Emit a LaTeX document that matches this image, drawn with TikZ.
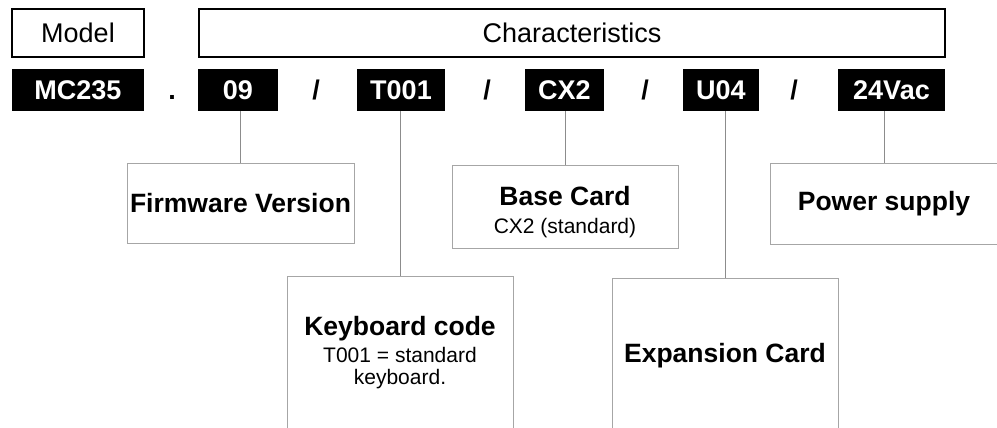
\documentclass[tikz,border=0pt]{standalone}
\usepackage{fontspec}
\setmainfont{Liberation Sans}
\newcommand\bigtxt{\fontsize{27}{31}\selectfont}
\newcommand\boldtxt{\fontsize{26.5}{30}\selectfont}
\newcommand\smalltxt{\fontsize{21}{23}\selectfont}

\begin{document}
\begin{tikzpicture}[x=1pt,y=-1pt,
    head/.style={draw=black,line width=2pt,inner sep=0pt,minimum height=48pt,font=\bigtxt},
    code/.style={fill=black,text=white,inner sep=0pt,minimum height=42pt,font=\bfseries\bigtxt},
    sep/.style={anchor=base,inner sep=0pt,font=\bfseries\bigtxt},
    info/.style={draw=black!35,line width=0.8pt,inner sep=0pt,align=center,font=\bfseries\boldtxt},
    link/.style={draw=black!45,line width=0.8pt}]
\useasboundingbox (0,0) rectangle (997,428);
\clip (0,0) rectangle (997,428);
\path
    (78,33)    node (model) [head,minimum width=132pt] {Model}
    (572,33)   node (chars) [head,minimum width=746pt] {Characteristics}
    (78,90)    node (mc)  [code,minimum width=132pt] {MC235}
    (238,90)   node (fwc) [code,minimum width=80pt]  {09}
    (401,90)   node (kbc) [code,minimum width=88pt]  {T001}
    (564.5,90) node (bcc) [code,minimum width=79pt]  {CX2}
    (721,90)   node (exc) [code,minimum width=76pt]  {U04}
    (891.5,90) node (pwc) [code,minimum width=107pt] {24Vac}
    (172,99.7) node [sep] {.}
    (316,99.7) node [sep] {/}
    (487,99.7) node [sep] {/}
    (645,99.7) node [sep] {/}
    (794,99.7) node [sep] {/};
\path
    (240.5,203) node (fw) [info,minimum width=227pt,minimum height=80pt]
	{Firmware Version}
    (565,206.5) node (bc) [info,minimum width=226pt,minimum height=83pt]
	{\rule{0pt}{30pt}Base Card\\[-2pt] {\mdseries\smalltxt CX2 (standard)}}
    (884,203.5) node (pw) [info,minimum width=228pt,minimum height=81pt]
	{Power supply}
    (400,354)   node (kb) [info,minimum width=226pt,minimum height=156pt]
	{Keyboard code\\[-3pt] {\mdseries\smalltxt T001 = standard}\\[-8pt]
	{\mdseries\smalltxt keyboard.\rule[-8pt]{0pt}{0pt}}}
    (725,356)   node (ex) [info,minimum width=226pt,minimum height=156pt]
	{Expansion Card};
\draw [link] (fw.north) -- (fw.north |- fwc.south);
\draw [link] (kb.north) -- (kb.north |- kbc.south);
\draw [link] (bc.north) -- (bc.north |- bcc.south);
\draw [link] (ex.north) -- (ex.north |- exc.south);
\draw [link] (pw.north) -- (pw.north |- pwc.south);
\end{tikzpicture}
\end{document}
